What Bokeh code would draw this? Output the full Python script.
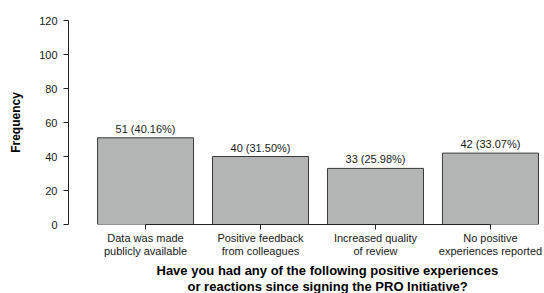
from bokeh.plotting import figure
from bokeh.models import ColumnDataSource, FixedTicker, Range1d, Title, LabelSet
from bokeh.core.properties import value
from bokeh.embed import file_html
from bokeh.resources import INLINE

categories = ["Data was made\npublicly available", "Positive feedback\nfrom colleagues",
              "Increased quality\nof review", "No positive\nexperiences reported"]
counts = [51, 40, 33, 42]
percents = [40.16, 31.50, 25.98, 33.07]
y_ticks = [0, 20, 40, 60, 80, 100, 120]
title_lines = ["Have you had any of the following positive experiences",
               "or reactions since signing the PRO Initiative?"]

FONT = "Liberation Sans"
TXT = "#1a1a1a"

xs = list(range(len(categories)))
labels = [f"{c} ({pc:.2f}%)" for c, pc in zip(counts, percents)]
src = ColumnDataSource(dict(x=xs, top=counts, label=labels))

p = figure(width=544, height=293, output_backend="svg", toolbar_location=None,
           x_range=Range1d(-0.67, 3.47), y_range=Range1d(0, 120),
           min_border_left=68, min_border_right=0, min_border_top=20, min_border_bottom=69)
p.outline_line_color = None
p.xgrid.grid_line_color = None
p.ygrid.grid_line_color = None
p.background_fill_color = "white"

p.vbar(x="x", top="top", bottom=0, width=0.835, source=src,
       fill_color="#b3b5b5", line_color="#3a3a3a", line_width=1)

p.add_layout(LabelSet(x="x", y="top", text="label", source=src, y_offset=3,
                      text_align="center", text_baseline="bottom",
                      text_font=value(FONT), text_font_size="11px", text_color=TXT))

ya = p.yaxis[0]
ya.ticker = FixedTicker(ticks=y_ticks)
ya.major_tick_out = 5
ya.major_tick_in = 0
ya.minor_tick_line_color = None
ya.major_label_standoff = 6
ya.major_label_text_font = FONT
ya.major_label_text_font_size = "11px"
ya.major_label_text_color = TXT
ya.axis_line_color = "#222222"
ya.major_tick_line_color = "#222222"
ya.axis_label = "Frequency"
ya.axis_label_text_font = FONT
ya.axis_label_text_font_size = "12px"
ya.axis_label_text_font_style = "bold"
ya.axis_label_text_color = "black"
ya.axis_label_standoff = 13

xa = p.xaxis[0]
xa.ticker = FixedTicker(ticks=xs)
xa.major_label_overrides = {i: c for i, c in zip(xs, categories)}
xa.bounds = (0, len(categories) - 1)
xa.major_tick_out = 5
xa.major_tick_in = 0
xa.minor_tick_line_color = None
xa.major_label_standoff = 2
xa.major_label_text_font = FONT
xa.major_label_text_font_size = "11px"
xa.major_label_text_line_height = 1.15
xa.major_label_text_color = TXT
xa.axis_line_color = "#222222"
xa.major_tick_line_color = "#222222"

title_offsets = [88, 119]
title_standoffs = [1, -4]
for line, off, so in zip(title_lines, title_offsets, title_standoffs):
    p.add_layout(Title(text=line, align="left", offset=off, standoff=so,
                       text_font=FONT, text_font_size="13px", text_font_style="bold",
                       text_line_height=1.0, text_color="black"), "below")

open("out.html", "w").write(file_html(p, INLINE))
